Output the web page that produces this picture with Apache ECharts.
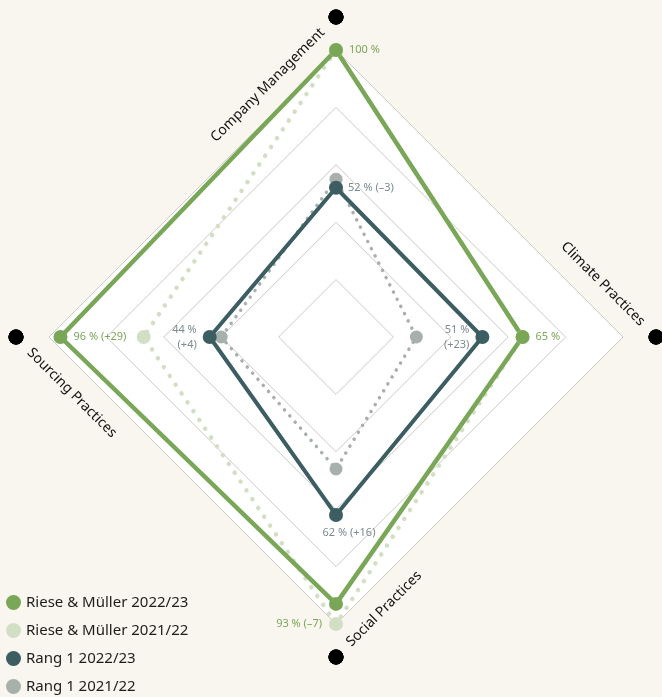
<!DOCTYPE html>
<html>
<head>
<meta charset="utf-8">
<script src="https://cdn.jsdelivr.net/npm/echarts@6/dist/echarts.min.js"></script>
<style>
  html, body { margin: 0; padding: 0; background: #f9f6ef; }
  #chart { width: 662px; height: 697px; }
</style>
</head>
<body>
<div id="chart"></div>
<script>
// radar order in echarts goes counter-clockwise from the top: top, left, bottom, right
const indicators = ['Company Management', 'Sourcing Practices', 'Social Practices', 'Climate Practices'];
const seriesNames = ['Riese & Müller 2022/23', 'Riese & Müller 2021/22', 'Rang 1 2022/23', 'Rang 1 2021/22'];
const rm2223 = [100, 96, 93, 65];
const rm2122 = [100, 67, 100, 65];
const rang2223 = [52, 44, 62, 51];
const rang2122 = [55, 40, 46, 28];

const NAME_R = 111.5; // black marker ring, outside the 0-100 scale

const GREEN = '#7aa757';
const LIGHT = '#d3dfc5';
const DARK = '#3c5d62';
const GREY = '#a8b0ac';
const LABEL_GREY = '#7b8b90';
const FONT = 'Noto Sans';

function pct(cur, prev, i, sep) {
    const d = cur[i] - prev[i];
    let s = cur[i] + ' %';
    if (d !== 0) s += sep + '(' + (d > 0 ? '+' : '–') + Math.abs(d) + ')';
    return s;
}
// only label some of the corners of a polygon
function pick(dims, fn) {
    return p => dims.indexOf(p.dimensionIndex) >= 0 ? fn(p.dimensionIndex) : '';
}

const labelBase = { show: true, fontFamily: FONT, fontSize: 11, lineHeight: 15 };
const ghost = {
    symbol: 'circle',
    symbolSize: 14,
    itemStyle: { color: 'rgba(0,0,0,0)' },
    lineStyle: { width: 0, opacity: 0 }
};

const nameLabels = [
    { rotate: 45, align: 'right', offset: [-19, 0] },
    { rotate: -45, align: 'left', offset: [19, 0] },
    { rotate: 45, align: 'left', offset: [18, 0] },
    { rotate: -45, align: 'right', offset: [-19, 0] }
];

const chart = echarts.init(document.getElementById('chart'), null, { renderer: 'canvas' });
chart.setOption({
    backgroundColor: '#f9f6ef',
    animation: false,
    legend: {
        data: seriesNames,
        orient: 'vertical',
        left: 6,
        bottom: 3,
        padding: 0,
        icon: 'circle',
        itemWidth: 15,
        itemHeight: 15,
        itemGap: 13,
        textStyle: { fontFamily: FONT, fontSize: 15, lineHeight: 15, color: '#1d1d1b' }
    },
    radar: {
        center: [336, 337],
        radius: 287,
        startAngle: 90,
        shape: 'polygon',
        splitNumber: 5,
        indicator: indicators.map(n => ({ name: n, min: 0, max: 100 })),
        axisName: { show: false },
        axisLine: { show: false },
        axisTick: { show: false },
        splitLine: { lineStyle: { color: '#cdcbc5', width: 1 } },
        splitArea: { show: true, areaStyle: { color: ['#ffffff'] } }
    },
    series: [{
        type: 'radar',
        symbol: 'circle',
        data: [{
            name: seriesNames[1],
            value: rm2122,
            symbolSize: 14,
            itemStyle: { color: LIGHT },
            lineStyle: { color: LIGHT, width: 4.5, type: [0.1, 10.5], cap: 'round' },
            label: Object.assign({}, labelBase, {
                color: GREEN, position: 'left', distance: 7,
                formatter: pick([2], i => pct(rm2223, rm2122, i, ' '))
            })
        }, {
            name: seriesNames[3],
            value: rang2122,
            symbolSize: 13,
            itemStyle: { color: GREY },
            lineStyle: { color: GREY, width: 3.5, type: [0.1, 8], cap: 'round' }
        }, {
            name: seriesNames[0],
            value: rm2223,
            symbolSize: 14,
            itemStyle: { color: GREEN },
            lineStyle: { color: GREEN, width: 4.5 },
            label: Object.assign({}, labelBase, {
                color: GREEN, position: 'right', distance: 6,
                formatter: pick([0, 1, 3], i => pct(rm2223, rm2122, i, ' '))
            })
        }, {
            name: seriesNames[2],
            value: rang2223,
            symbolSize: 14,
            itemStyle: { color: DARK },
            lineStyle: { color: DARK, width: 4 },
            label: Object.assign({}, labelBase, {
                color: LABEL_GREY, position: 'right', distance: 5,
                formatter: pick([0], i => pct(rang2223, rang2122, i, ' '))
            })
        }, Object.assign({}, ghost, {
            name: 'rang-labels-side',
            value: rang2223,
            label: Object.assign({}, labelBase, {
                color: LABEL_GREY, position: 'left', distance: 6,
                formatter: pick([1, 3], i => pct(rang2223, rang2122, i, '\n'))
            })
        }), Object.assign({}, ghost, {
            name: 'rang-labels-bottom',
            value: rang2223,
            label: Object.assign({}, labelBase, {
                color: LABEL_GREY, position: 'bottom', distance: 3, offset: [13, 0],
                formatter: pick([2], i => pct(rang2223, rang2122, i, ' '))
            })
        })]
    }, {
        type: 'radar',
        z: 3,
        silent: true,
        symbol: 'circle',
        symbolSize: 15,
        itemStyle: { color: '#000000' },
        lineStyle: { width: 0, opacity: 0 },
        data: indicators.map((n, k) => ({
            name: n,
            value: indicators.map(() => NAME_R),
            label: Object.assign({
                show: true,
                position: 'inside',
                verticalAlign: 'middle',
                fontFamily: FONT,
                fontSize: 14,
                color: '#111111',
                formatter: pick([k], i => indicators[i])
            }, nameLabels[k])
        }))
    }]
});
</script>
</body>
</html>
